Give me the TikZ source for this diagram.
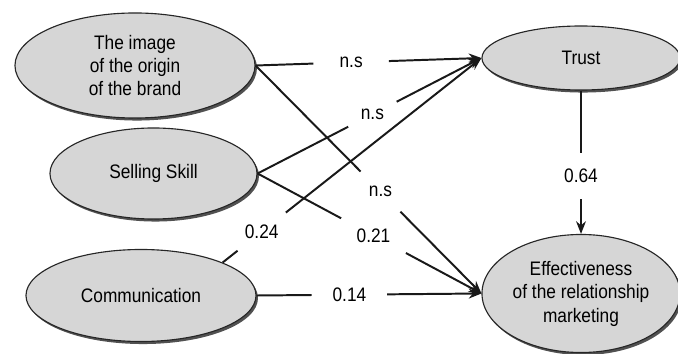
\documentclass[tikz,border=0pt]{standalone}
\usepackage{fontspec}
\setmainfont{Liberation Sans}[FakeStretch=0.885]
\usetikzlibrary{shapes.geometric,arrows.meta,shadows}
\definecolor{ellfill}{RGB}{214,214,214}
\begin{document}
\begin{tikzpicture}[x=0.025cm,y=-0.025cm,
  every node/.style={font=\fontsize{13.9}{16.7}\selectfont},
  var/.style={ellipse, draw=black!85, line width=0.8pt, fill=ellfill, inner sep=0pt, align=center,
    drop shadow={shadow xshift=1.4pt, shadow yshift=-1.8pt, fill=black!80, opacity=0.85}},
  lbl/.style={circle, inner sep=0pt},
  conn/.style={line width=1.4pt, black!90},
  arr/.style={conn, -{Stealth[length=9pt,width=7pt]}}]
\useasboundingbox (0,0) rectangle (678,354);

\node[var, minimum width=6cm, minimum height=2.625cm] (img) at (135,65.5) {The image\\of the origin\\of the brand};
\node[var, minimum width=5.175cm, minimum height=2.275cm] (sell) at (153.5,173.5) {Selling Skill};
\node[var, minimum width=5.75cm, minimum height=2.3cm] (comm) at (141,295.5) {Communication};
\node[var, minimum width=4.95cm, minimum height=1.6cm] (trust) at (581,58) {Trust};
\node[var, minimum width=4.95cm, minimum height=2.95cm] (eff) at (581,293.5) {Effectiveness\\of the relationship\\marketing};

% image -> trust
\path (img.east) -- (trust.west) node[lbl, minimum size=1.875cm, pos=0.423] (l1) {n.s};
\draw[conn] (img.east) -- (l1);
\draw[arr] (l1) -- (trust.west);

% image -> eff
\path (img.east) -- (eff.west) node[lbl, minimum size=1.4cm, pos=0.553] (l2) {n.s};
\draw[conn] (img.east) -- (l2);
\draw[arr] (l2) -- (eff.west);

% selling -> trust
\path (sell.east) -- (trust.west) node[lbl, minimum size=1.35cm, pos=0.513] (l3) {n.s};
\draw[conn] (sell.east) -- (l3);
\draw[arr] (l3) -- (trust.west);

% selling -> eff
\path (sell.east) -- (eff.west) node[lbl, minimum size=1.825cm, pos=0.518] (l5) {0.21};
\draw[conn] (sell.east) -- (l5);
\draw[arr] (l5) -- (eff.west);

% communication -> trust
\path (comm.22) -- (trust.west) node[lbl, minimum size=1.525cm, pos=0.151] (l4) {0.24};
\draw[conn] (comm.22) -- (l4);
\draw[arr] (l4) -- (trust.west);

% communication -> eff
\path (comm.east) -- (eff.west) node[lbl, minimum size=1.875cm, pos=0.413] (l6) {0.14};
\draw[conn] (comm.east) -- (l6);
\draw[arr] (l6) -- (eff.west);

% trust -> eff
\path (trust.south) -- (eff.north) node[lbl, minimum size=1.15cm, pos=0.597] (l7) {0.64};
\draw[conn] (trust.south) -- (l7);
\draw[arr] (l7) -- (eff.north);
\end{tikzpicture}
\end{document}
